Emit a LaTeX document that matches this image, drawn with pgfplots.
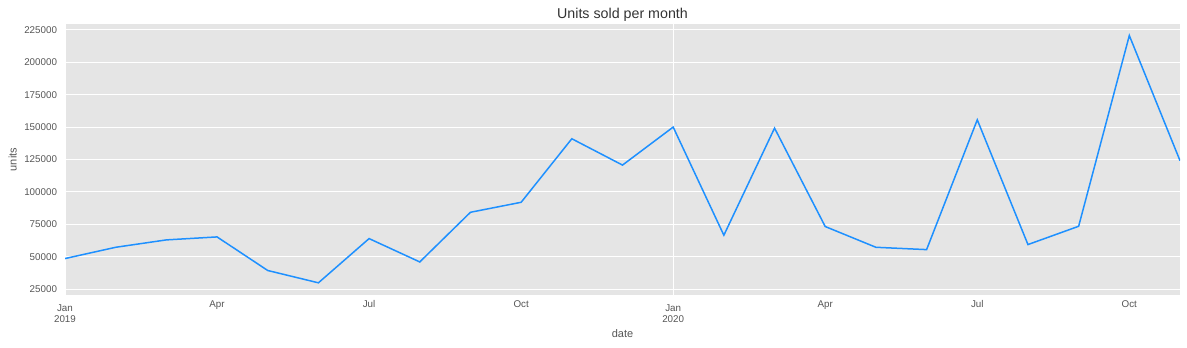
\documentclass[border=0pt]{standalone}
\usepackage{fontspec}
\setmainfont{Liberation Sans}
\usepackage{pgfplots}
\pgfplotsset{compat=1.18}
\definecolor{bg}{HTML}{E5E5E5}
\definecolor{lbl}{HTML}{555555}
\definecolor{ttl}{HTML}{333333}
\definecolor{ln}{HTML}{1E90FF}
\begin{document}
\begin{tikzpicture}
\begin{axis}[name=a, scale only axis, width=1115pt, height=271pt,
  xmin=0, xmax=22, ymin=20500, ymax=229500,
  axis background/.style={fill=bg},
  axis line style={draw=none},
  major tick length=0pt, minor tick length=0pt,
  ytick={25000,50000,...,225000},
  scaled y ticks=false,
  yticklabel style={/pgf/number format/fixed, /pgf/number format/1000 sep={}, /pgf/number format/assume math mode=true,
    font=\fontsize{9.8}{11.5}\selectfont, text=lbl, xshift=-4.5pt},
  xtick={0,12}, xticklabels={{Jan\\2019},{Jan\\2020}},
  xticklabel style={align=center, font=\fontsize{9.8}{11.5}\selectfont, text=lbl, yshift=-6pt},
  extra x ticks={3,6,9,15,18,21},
  extra x tick labels={Apr,Jul,Oct,Apr,Jul,Oct},
  extra x tick style={grid=none, xticklabel style={yshift=4pt}},
  ymajorgrids, xmajorgrids,
  grid style={white, line width=1pt},
  xlabel={date}, ylabel={units},
  xlabel style={at={(axis description cs:0.5,-0.15498)}, anchor=base, font=\fontsize{11}{13}\selectfont, text=lbl},
  ylabel style={at={(axis description cs:-0.04332,0.5)}, anchor=base, rotate=0, font=\fontsize{11}{13}\selectfont, text=lbl},
  title={Units sold per month},
  title style={at={(axis description cs:0.5,1.02103)}, anchor=base, yshift=-6pt, font=\fontsize{14.25}{16}\selectfont, text=ttl},
]
\addplot[ln, line width=1.5pt] coordinates {
(0,48600) (1,57300) (2,63000) (3,65300) (4,39400) (5,29900) (6,64000)
(7,46000) (8,84300) (9,92000) (10,141000) (11,120700) (12,150000)
(13,66600) (14,149200) (15,73300) (16,57300) (17,55500) (18,155600)
(19,59400) (20,73500) (21,220600) (22,124100)
};
\end{axis}
\path ([xshift=-65pt,yshift=-52pt]a.south west) rectangle ([xshift=7pt,yshift=24pt]a.north east);
\end{tikzpicture}
\end{document}
